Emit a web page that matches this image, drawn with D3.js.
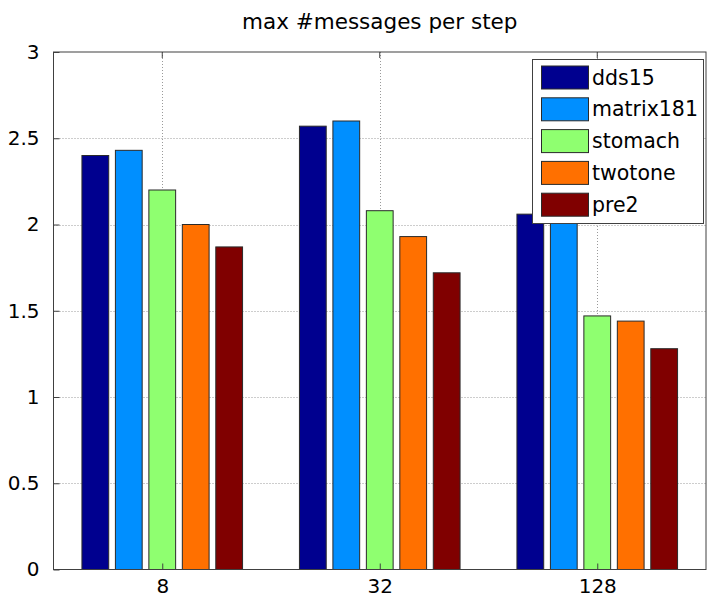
<!DOCTYPE html>
<html>
<head>
<meta charset="utf-8">
<script src="https://cdn.jsdelivr.net/npm/d3@7"></script>
<style>
  html, body { margin: 0; padding: 0; background: #fff; }
  svg { display: block; font-family: "DejaVu Sans", sans-serif; }
</style>
</head>
<body>
<svg id="chart" width="708" height="598"></svg>
<script>
// Group labels (x axis) and one value array per series
const groups = ["8", "32", "128"];
const seriesNames = ["dds15", "matrix181", "stomach", "twotone", "pre2"];
const dds15     = [2.40, 2.57, 2.06];
const matrix181 = [2.43, 2.60, 2.04];
const stomach   = [2.20, 2.08, 1.47];
const twotone   = [2.00, 1.93, 1.44];
const pre2      = [1.87, 1.72, 1.28];
const seriesColors = ["#00008f", "#008fff", "#8fff70", "#ff7000", "#800000"];
const yTicks = [0, 0.5, 1, 1.5, 2, 2.5, 3];
const titleText = "max #messages per step";

const seriesValues = [dds15, matrix181, stomach, twotone, pre2];

const svg = d3.select("#chart");
const plotLeft = 53.5, plotRight = 706, plotTop = 52, plotBottom = 569.5;

const x = d3.scaleLinear().domain([0.5, groups.length + 0.5]).range([plotLeft, plotRight]);
const y = d3.scaleLinear().domain([0, 3]).range([plotBottom, plotTop]);

// grouped bar geometry: group width min(0.8, n/(n+1.5)), bar = 0.8 of slot
const n = seriesNames.length;
const groupWidth = Math.min(0.8, n / (n + 1.5));
const slot = groupWidth / n;
const barW = slot * 0.8;

// dotted grid
const grid = svg.append("g").attr("stroke", "#9a9a9a").attr("stroke-width", 1)
  .attr("stroke-dasharray", "1,2");
yTicks.filter(t => t > 0 && t < 3).forEach(t => {
  grid.append("line").attr("x1", plotLeft).attr("x2", plotRight)
    .attr("y1", Math.round(y(t)) + 0.5).attr("y2", Math.round(y(t)) + 0.5);
});
groups.forEach((g, i) => {
  grid.append("line").attr("x1", Math.round(x(i + 1)) + 0.5).attr("x2", Math.round(x(i + 1)) + 0.5)
    .attr("y1", plotTop).attr("y2", plotBottom);
});

// bars
seriesValues.forEach((vals, s) => {
  svg.append("g").selectAll("rect").data(vals).join("rect")
    .attr("x", (d, i) => x(i + 1 + (s - (n - 1) / 2) * slot - barW / 2))
    .attr("width", x(barW) - x(0))
    .attr("y", d => y(d))
    .attr("height", d => y(0) - y(d))
    .attr("fill", seriesColors[s])
    .attr("stroke", "#2a2a2a")
    .attr("stroke-width", 1);
});

// axes box
svg.append("rect").attr("x", plotLeft).attr("y", plotTop)
  .attr("width", plotRight - plotLeft).attr("height", plotBottom - plotTop)
  .attr("fill", "none").attr("stroke", "#404040").attr("stroke-width", 1);

const yAxis = d3.axisLeft(y).tickValues(yTicks).tickSizeInner(-6).tickSizeOuter(0)
  .tickPadding(14).tickFormat(d3.format("~g"));
const yG = svg.append("g").attr("transform", `translate(${plotLeft},0)`).call(yAxis);
yG.select(".domain").remove();
yG.selectAll("line").attr("stroke", "#404040");
yG.selectAll("text").attr("font-size", 20).attr("font-family", "DejaVu Sans").attr("fill", "#000");

const xAxis = d3.axisBottom(x).tickValues(groups.map((g, i) => i + 1))
  .tickFormat((d, i) => groups[i]).tickSizeInner(-6).tickSizeOuter(0).tickPadding(9);
const xG = svg.append("g").attr("transform", `translate(0,${plotBottom})`).call(xAxis);
xG.select(".domain").remove();
xG.selectAll("line").attr("stroke", "#404040");
xG.selectAll("text").attr("font-size", 20).attr("font-family", "DejaVu Sans").attr("fill", "#000");

// top tick marks
groups.forEach((g, i) => {
  svg.append("line").attr("x1", x(i + 1)).attr("x2", x(i + 1))
    .attr("y1", plotTop).attr("y2", plotTop + 6).attr("stroke", "#404040");
});

// title
svg.append("text").attr("x", (plotLeft + plotRight) / 2).attr("y", 29)
  .attr("text-anchor", "middle").attr("font-size", 21.5).attr("fill", "#000")
  .text(titleText);

// legend
const lg = svg.append("g").attr("transform", "translate(532,59)");
lg.append("rect").attr("x", 0.5).attr("y", 0.5).attr("width", 171).attr("height", 164)
  .attr("fill", "#fff").attr("stroke", "#404040").attr("stroke-width", 1);
seriesNames.forEach((name, s) => {
  const cy = 18.5 + s * 31.8;
  lg.append("rect").attr("x", 9.5).attr("y", cy - 11.5).attr("width", 47).attr("height", 23)
    .attr("fill", seriesColors[s]).attr("stroke", "#2a2a2a").attr("stroke-width", 1);
  lg.append("text").attr("x", 60).attr("y", cy + 7).attr("font-size", 20.5).attr("fill", "#000")
    .text(name);
});
</script>
</body>
</html>
